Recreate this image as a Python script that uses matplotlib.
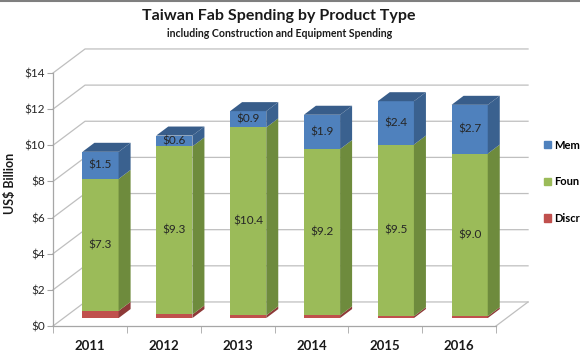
import numpy as np
import matplotlib.pyplot as plt
from matplotlib.patches import Patch

years = ['2011', '2012', '2013', '2014', '2015', '2016']
discrete = [0.4, 0.2, 0.15, 0.15, 0.1, 0.1]
foundry = [7.3, 9.3, 10.4, 9.2, 9.5, 9.0]
memory = [1.5, 0.6, 0.9, 1.9, 2.4, 2.7]
series = ['Discrete', 'Foundry', 'Memory']
# legend text as far as it shows in the picture (cut at the right edge)
legend_labels = {'Discrete': 'Discr', 'Foundry': 'Foun', 'Memory': 'Mem'}
yticks = np.arange(0, 15, 2)

# front / side / top shades per series
colors = {
    'Discrete': ('#C0504D', '#8E3A38', '#A54441'),
    'Foundry': ('#9BBB59', '#6E8B3D', '#84A04A'),
    'Memory': ('#4F81BD', '#3A618F', '#385D8A'),
}

plt.rcParams['font.family'] = ['Lato', 'DejaVu Sans']

fig = plt.figure(figsize=(5.8, 3.59), dpi=100)
ax = fig.add_axes([53/580, 33/359, 443/580, 253/359])
ax.set_xlim(-0.5, 5.5)
ax.set_ylim(0, 14)

# wall depth in data units, bar front position and bar depth as fraction of it
DX, DY = 0.434, 1.33
f0, fd = 0.33, 0.375
w = 0.49
grid_c = '#BFBFBF'

# back wall + floor
for v in yticks:
    ax.plot([-0.5, -0.5 + DX, 5.5 + DX], [v, v + DY, v + DY],
            color=grid_c, lw=0.9, clip_on=False, zorder=0)
ax.plot([5.5, 5.5 + DX], [0, DY], color=grid_c, lw=0.9, clip_on=False, zorder=0)

x = np.arange(len(years))
bottoms = np.zeros(len(years))
ox, oy = f0 * DX, f0 * DY
ddx, ddy = fd * DX, fd * DY

for name, vals in zip(series, [discrete, foundry, memory]):
    vals = np.array(vals)
    front, side, top = colors[name]
    ax.bar(x + ox, vals, bottom=bottoms + oy, width=w, color=front,
           clip_on=False, zorder=2)
    for i in range(len(years)):
        xr = x[i] + ox + w / 2
        b = bottoms[i] + oy
        t = bottoms[i] + vals[i] + oy
        ax.fill([xr, xr + ddx, xr + ddx, xr], [b, b + ddy, t + ddy, t],
                color=side, lw=0, clip_on=False, zorder=2)
        if name == 'Memory':
            xl = x[i] + ox - w / 2
            ax.fill([xl, xr, xr + ddx, xl + ddx], [t, t, t + ddy, t + ddy],
                    color=top, lw=0, clip_on=False, zorder=2)
        if name != 'Discrete':
            ax.text(x[i] + ox, bottoms[i] + vals[i] / 2 + oy, '$%.1f' % vals[i],
                    ha='center', va='center', fontsize=8.5, color='#262626', zorder=3)
    bottoms = bottoms + vals

# axes styling
for s in ['top', 'right']:
    ax.spines[s].set_visible(False)
for s in ['left', 'bottom']:
    ax.spines[s].set_color('#A6A6A6')
    ax.spines[s].set_linewidth(0.9)
ax.set_yticks(yticks)
ax.set_yticklabels(['$%d' % v for v in yticks], fontsize=8.5, color='#262626')
ax.tick_params(axis='y', length=4, color='#A6A6A6', pad=2)
ax.set_xticks(x)
ax.set_xticklabels(years, fontsize=9.5, fontweight='bold', color='#1a1a1a')
ax.tick_params(axis='x', length=0, pad=10)
ax.set_xticks(np.arange(-0.5, 6, 1), minor=True)
ax.tick_params(axis='x', which='minor', length=5, color='#A6A6A6')
ax.patch.set_visible(False)

fig.text(0.481, 0.955, 'Taiwan Fab Spending by Product Type', ha='center', va='center',
         fontsize=11.5, fontweight='bold', color='#1a1a1a')
fig.text(0.482, 0.907, 'including Construction and Equipment Spending', ha='center',
         va='center', fontsize=7.6, fontweight='bold', color='#1a1a1a')
fig.text(0.018, 0.49, 'US$ Billion', rotation=90, ha='center', va='center',
         fontsize=9, fontweight='bold', color='#1a1a1a')

handles = [Patch(color=colors[n][0], label=legend_labels[n]) for n in reversed(series)]
fig.legend(handles=handles, loc='center left', bbox_to_anchor=(544/580, 0.494),
           frameon=False, prop={'weight': 'bold', 'size': 8},
           handlelength=0.65, handleheight=0.65, labelspacing=2.3,
           handletextpad=0.25, borderpad=0, borderaxespad=0)

# thin grey border line along the top edge
fig.add_artist(plt.Line2D([0, 1], [0.997, 0.997], color='#7F7F7F', lw=1.5))

fig.savefig('out.png', dpi=100)
